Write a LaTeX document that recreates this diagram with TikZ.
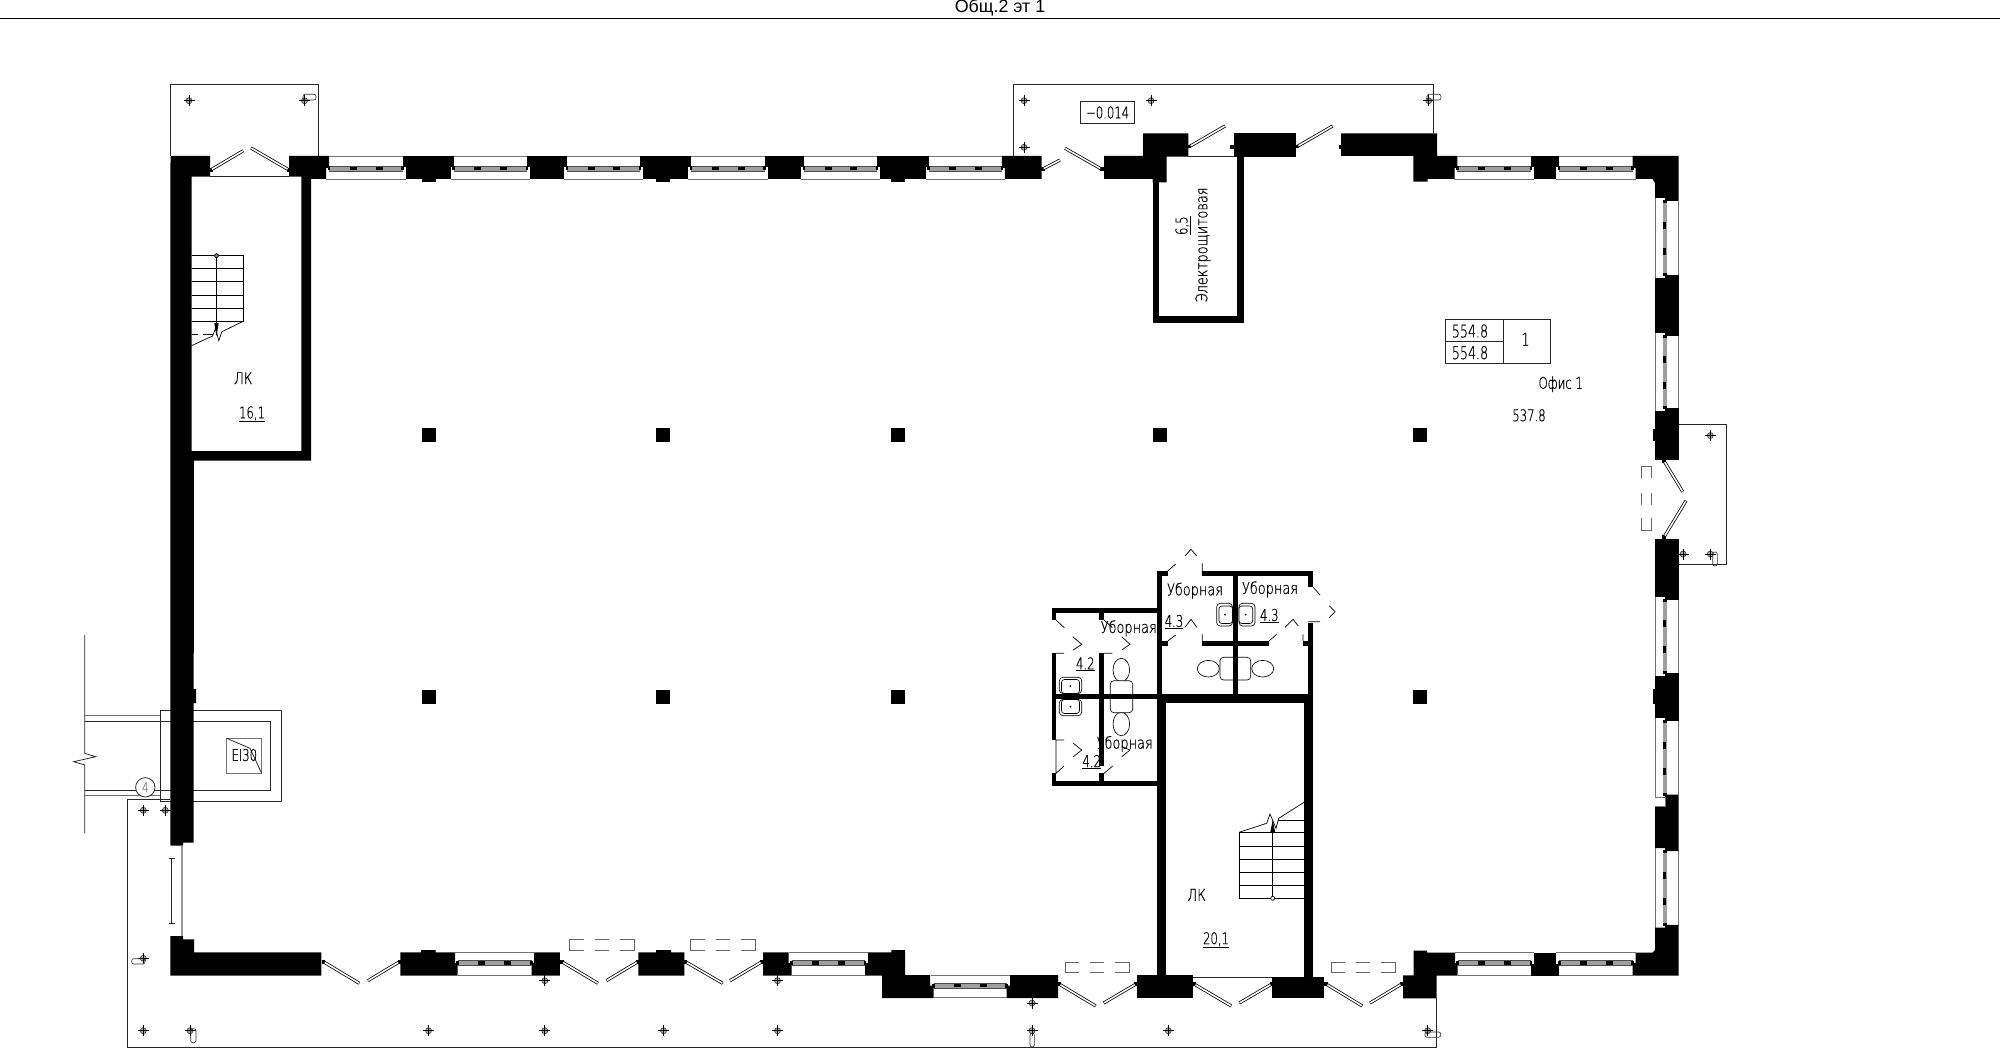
\documentclass[tikz,border=0pt]{standalone}
\usepackage{fontspec}
\setmainfont{Liberation Sans}
\newfontfamily\gost[FakeStretch=0.8,FakeBold=0.5]{DejaVu Sans ExtraLight}
\newfontfamily\gostn[FakeStretch=0.72,FakeBold=0.5]{DejaVu Sans ExtraLight}
\newcommand{\pxfont}{\fontsize{23}{26}\selectfont}
\newcommand{\ppoly}[1]{\fill[black] #1 -- cycle;}
% exterior-span window, horizontal: x1 x2 yout yin yband
\newcommand{\winH}[5]{%
 \draw[glass] (#1,#3) -- (#2,#3);
 \draw[glass] ({#1-3},#4) -- ({#2+3},#4);
 \fill[gray!75] (#1,{#5-2.6}) rectangle (#2,{#5+2.6});
 \draw[black!70,line width=.7pt] (#1,{#5-2.6}) -- (#2,{#5-2.6}) (#1,{#5+2.6}) -- (#2,{#5+2.6});
 \fill[black] ({#1-1.3},{#5-2}) rectangle ({#1+1.3},{#5+2});
 \fill[black] ({#2-1.3},{#5-2}) rectangle ({#2+1.3},{#5+2});
 \fill[black] ({#1+(#2-#1)*.33-3.5},{#5-1.6}) rectangle ({#1+(#2-#1)*.33+3.5},{#5+1.6});
 \fill[black] ({#1+(#2-#1)*.68-3.5},{#5-1.6}) rectangle ({#1+(#2-#1)*.68+3.5},{#5+1.6});
}
% vertical window on the right wall: y1 y2
\newcommand{\winV}[2]{%
 \draw[glass] (1678.3,#1) -- (1678.3,#2);
 \draw[glass] (1655.3,{#1-3}) -- (1655.3,{#2+3});
 \fill[gray!75] (1663,#1) rectangle (1667,#2);
 \fill[black] (1663,{#1-1}) rectangle (1666.5,{#1+2});
 \fill[black] (1663,{#2-2}) rectangle (1666.5,{#2+1});
 \fill[black] (1663,{#1+(#2-#1)*.33-3.5}) rectangle (1666,{#1+(#2-#1)*.33+3.5});
 \fill[black] (1663,{#1+(#2-#1)*.68-3.5}) rectangle (1666,{#1+(#2-#1)*.68+3.5});
}
% pier on a horizontal wall: xa xb yout yin
\newcommand{\pierH}[4]{%
 \fill[black] (#1,#3) rectangle (#2,{(#3+#4)/2});
 \fill[black] ({#1+3},{(#3+#4)/2}) rectangle ({#2-3},#4);
}
\newcommand{\pierV}[2]{%
 \fill[black] (1665,#1) rectangle (1678.6,#2);
 \fill[black] (1655,{#1+3}) rectangle (1665.5,{#2-3});
}
\newcommand{\bumpT}[1]{\fill[black] ({#1-7},179) rectangle ({#1+7},181.7);}
\newcommand{\leaf}[4]{%
 \fill[black] ({#1-1.8},{#2-1.8}) rectangle ({#1+1.8},{#2+1.8});
 \draw[black,line width=4.4pt] (#1,#2) -- (#3,#4);
 \draw[white,line width=2.2pt] ({#1+(#3-#1)*.04},{#2+(#4-#2)*.04}) -- ({#3-(#3-#1)*.01},{#4-(#4-#2)*.01});
}
\newcommand{\crosshair}[2]{%
 \draw[black!80,fill=gray!60,line width=.9pt] (#1,#2) circle [radius=3];
 \draw[black,line width=1pt] ({#1-5.5},#2) -- ({#1+5.5},#2) (#1,{#2-5.5}) -- (#1,{#2+5.5});
}
\newcommand{\clipbar}[4]{\draw[black!80,line width=.9pt,rounded corners=3pt] (#1,#2) rectangle (#3,#4);}
\newcommand{\dashH}[4]{%
 \draw[dashbox] ({#1+.22*(#2-#1)},#3) -- (#1,#3) -- (#1,#4) -- ({#1+.22*(#2-#1)},#4);
 \draw[dashbox] ({#2-.22*(#2-#1)},#3) -- (#2,#3) -- (#2,#4) -- ({#2-.22*(#2-#1)},#4);
 \draw[dashbox] ({#1+.39*(#2-#1)},#3) -- ({#1+.61*(#2-#1)},#3) ({#1+.39*(#2-#1)},#4) -- ({#1+.61*(#2-#1)},#4);
}
\newcommand{\column}[2]{\fill[black] ({#1-7},{#2-7}) rectangle ({#1+7},{#2+7});}
\tikzset{
 x=0.05cm,y=-0.05cm,
 thinl/.style={black!85,line width=1.1pt},
 hairl/.style={black,line width=1pt},
 glass/.style={gray!90!black,line width=1.3pt},
 dashbox/.style={gray!80!black,line width=1.2pt},
 lab/.style={inner sep=0pt,font=\gost\pxfont},
 num/.style={inner sep=0pt,font=\gostn\pxfont},
 tnum/.style={inner sep=0pt,font=\gostn\fontsize{25}{27}\selectfont},
}
\begin{document}
\begin{tikzpicture}
\useasboundingbox (0,0) rectangle (2000,1048);
\fill[white] (0,0) rectangle (2000,1048);
% header
\node[inner sep=0pt,font=\fontsize{25.4}{27}\selectfont] (title) at (1000,7.5) {Общ.2 эт 1};
\draw[black,line width=1pt] (0,18.3) -- (2000,18.3);

% canopies / thin outlines
\draw[thinl] (170.5,156) -- (170.5,84.3) -- (318,84.3) -- (318,156);
\draw[thinl] (1013.4,156) -- (1013.4,84.3) -- (1433.3,84.3) -- (1433.3,133);
\draw[thinl] (1678.6,424) -- (1726.7,424) -- (1726.7,564) -- (1678.6,564);
\draw[thinl] (170,799.3) -- (127.3,799.3) -- (127.3,1047) -- (1436.7,1047) -- (1436.7,998);
% left shaft
\draw[thinl] (160.3,710.3) rectangle (281.3,801.3);
\draw[thinl] (193,721.3) -- (270.3,721.3) -- (270.3,790.3) -- (193,790.3);
\draw[thinl] (84.7,715.7) -- (160.3,715.7) (84.7,721.3) -- (171,721.3) (84.7,790.3) -- (171,790.3) (84.7,795.7) -- (160.3,795.7);
\draw[gray!85!black,line width=1.3pt] (84.7,715.7) -- (160.3,715.7) (84.7,795.7) -- (160.3,795.7);
\draw[thinl] (84.7,635) -- (84.7,753.3) -- (95.7,756.7) -- (73.7,761.7) -- (84.7,765) -- (84.7,833.3);
\draw[thinl,fill=white] (145.3,787.3) circle [radius=9.7];
\node[inner sep=0pt,font=\gostn\fontsize{19}{20}\selectfont,text=gray] (n4) at (145.3,787.3) {4};
\draw[gray!90!black,line width=1.2pt] (226.7,738.3) rectangle (261.7,773.3);
\draw[thinl] (226.7,738.3) -- (250,748.3) -- (261.7,773.3);
\node[num] (ei) at (244.3,755) {EI30};
% dimension tick beside the left door
\draw[thinl] (171.7,858.3) -- (171.7,923.3) (168.5,858.3) -- (175,858.3) (168.5,923.3) -- (175,923.3);
\fill[gray!80] (181,845.7) rectangle (183.3,936);

% main stair-room walls, left wall
\ppoly{(170.5,156) -- (210,156) -- (210,176.7) -- (191.5,176.7) -- (191.5,451) -- (301.3,451) -- (301.3,176.7) -- (289,176.7) -- (289,156) -- (329,156) -- (329,168) -- (326,168) -- (326,179) -- (311,179) -- (311,460.5) -- (194,460.5) -- (193.7,689) -- (196,689) -- (196,703) -- (193.7,703) -- (193.7,842.7) -- (183,842.7) -- (183,845.7) -- (170.3,845.7)}
\draw[thinl] (210,176.7) -- (289,176.7);
\ppoly{(170.3,936) -- (183,936) -- (183,939.3) -- (194,939.3) -- (194,952.3) -- (321.3,952.3) -- (321.3,975.7) -- (170.3,975.7)}

% top wall
\pierH{402.7}{453.6}{156}{179}\bumpT{428.6}
\pierH{526.8}{567}{156}{179}
\pierH{640}{691}{156}{179}\bumpT{663}
\pierH{764.7}{804}{156}{179}
\pierH{877}{928.6}{156}{179}\bumpT{898}
\ppoly{(1001.8,156) -- (1041.5,156) -- (1041.5,179) -- (1004.8,179) -- (1004.8,168) -- (1001.8,168)}
\winH{329}{402.7}{156.5}{179}{168.5}
\winH{453.6}{526.8}{156.5}{179}{168.5}
\winH{567}{640}{156.5}{179}{168.5}
\winH{691}{764.7}{156.5}{179}{168.5}
\winH{804}{877}{156.5}{179}{168.5}
\winH{928.6}{1001.8}{156.5}{179}{168.5}
% entrance part of the top wall
\ppoly{(1104,156) -- (1143,156) -- (1143,133.3) -- (1188.4,133.3) -- (1188.4,156.7) -- (1166.5,156.7) -- (1166.5,182.3) -- (1152.7,182.3) -- (1152.7,179) -- (1104,179)}
\fill[black] (1233.5,133.3) rectangle (1296,156.7);
\ppoly{(1341,133.3) -- (1437,133.3) -- (1437,156) -- (1457.4,156) -- (1457.4,168) -- (1454.7,168) -- (1454.7,179) -- (1427.5,179) -- (1427.5,181.7) -- (1413.4,181.7) -- (1413.4,156) -- (1341,156)}
% electrical room
\fill[black] (1152.7,179) rectangle (1159,322.7);
\fill[black] (1237,133.3) rectangle (1243.8,322.7);
\fill[black] (1152.7,316) rectangle (1243.8,322.7);
\draw[thinl] (1188,156.8) -- (1233.5,156.8);
% top right
\pierH{1531}{1559}{156}{179}
\winH{1457.4}{1531}{156.5}{179}{168.5}
\winH{1559}{1632.7}{156.5}{179}{168.5}
\ppoly{(1632.7,156) -- (1678.6,156) -- (1678.6,201) -- (1665,201) -- (1665,198) -- (1655,198) -- (1655,183) -- (1652.6,179) -- (1635.7,179) -- (1635.7,168) -- (1632.7,168)}
% right wall
\pierV{275}{335.7}
\pierV{408.3}{459.5}\fill[black] (1652.7,429) rectangle (1656,441);
\fill[black] (1655,456.5) rectangle (1666,459.5);
\pierV{538.8}{599.6}\fill[black] (1655,538.8) rectangle (1666,542);
\pierV{673}{721}\fill[black] (1652.7,689) rectangle (1656,703.7);
\ppoly{(1665,794.6) -- (1678.6,794.6) -- (1678.6,851) -- (1665,851) -- (1665,848) -- (1655,848) -- (1655,806) -- (1665.5,806)}
\draw[glass] (1655.3,797.5) -- (1665.5,797.5) -- (1665.5,806) -- (1655.3,806);
\winV{201}{275}
\winV{335.7}{408.3}
\winV{599.6}{673}
\winV{721}{794.6}
\winV{851}{924.8}
\ppoly{(1632.7,975.6) -- (1678.6,975.6) -- (1678.6,924.8) -- (1665,924.8) -- (1665,927.7) -- (1655,927.7) -- (1655,950) -- (1652.6,952.6) -- (1635.7,952.6) -- (1635.7,963) -- (1632.7,963)}
% bottom wall
\ppoly{(400.3,952.3) -- (421,952.3) -- (421,950) -- (435.7,950) -- (435.7,952.3) -- (455,952.3) -- (455,963) -- (457.5,963) -- (457.5,975.7) -- (400.3,975.7)}
\ppoly{(534,952.3) -- (559.8,952.3) -- (559.8,975.7) -- (531.7,975.7) -- (531.7,963) -- (534,963)}
\ppoly{(638.3,952.3) -- (656,952.3) -- (656,950) -- (671,950) -- (671,952.3) -- (684.4,952.3) -- (684.4,975.7) -- (638.3,975.7)}
\ppoly{(763,952.3) -- (788.6,952.3) -- (788.6,963) -- (791.5,963) -- (791.5,975.7) -- (763,975.7)}
\ppoly{(868,952.3) -- (891.4,952.3) -- (891.4,950) -- (905,950) -- (905,975) -- (930,975) -- (930,985.5) -- (933.5,985.5) -- (933.5,998) -- (882,998) -- (882,975.7) -- (865,975.7) -- (865,963) -- (868,963)}
\ppoly{(1010,975) -- (1058,975) -- (1058,998) -- (1006.7,998) -- (1006.7,985.5) -- (1010,985.5)}
\winH{457.5}{531.7}{975.7}{952.7}{963}
\winH{791.5}{865}{975.7}{952.7}{963}
\winH{933.5}{1006.7}{997.7}{975.5}{985.5}
\ppoly{(1136.7,975.3) -- (1193.3,975.3) -- (1193.3,998.3) -- (1136.7,998.3)}
\ppoly{(1272,977.3) -- (1324.3,977.3) -- (1324.3,998.3) -- (1272,998.3)}
\draw[thinl] (1193,977) -- (1272,977);
\ppoly{(1413.7,950.7) -- (1427,950.7) -- (1427,952.7) -- (1455,952.7) -- (1455,963) -- (1457.7,963) -- (1457.7,975.6) -- (1436.7,975.6) -- (1436.7,998.3) -- (1403,998.3) -- (1403,975.3) -- (1413.7,975.3)}
\pierH{1531}{1559.3}{975.6}{952.7}
\winH{1457.7}{1531}{975.6}{952.9}{963}
\winH{1559.3}{1632.7}{975.6}{952.9}{963}
% columns
\column{428.6}{435}\column{663}{435}\column{898}{435}\column{1159.5}{435}\column{1420}{435}
\column{428.6}{696.5}\column{663}{696.5}\column{898}{696.5}\column{1420}{696.5}
% doors
\leaf{210.7}{170}{243.3}{150.7}
\leaf{289}{170}{251}{148}
\leaf{1043}{169}{1060}{160}
\leaf{1101.8}{169.3}{1065}{148.3}
\leaf{1189.3}{146.7}{1225}{126}
\leaf{1296.9}{146.7}{1332.6}{126}
\fill[black] (1229.5,145) rectangle (1233.5,149);
\fill[black] (1339,145) rectangle (1342,149);
\leaf{1664}{461}{1682.7}{491.7}
\leaf{1664}{537}{1686}{500.8}
\leaf{323.3}{961.7}{359.3}{983.3}
\leaf{399.4}{961.7}{367.9}{980.7}
\leaf{561.8}{961.7}{598}{983.3}
\leaf{637.9}{961.7}{606.4}{980.7}
\leaf{685.4}{961.7}{722.7}{983.3}
\leaf{762}{961.7}{730}{980.7}
\leaf{1059}{984}{1095.7}{1006}
\leaf{1136}{984}{1103.7}{1003}
\leaf{1194}{984}{1231.3}{1006}
\leaf{1271.7}{984}{1239.3}{1003}
\leaf{1326}{984}{1362.3}{1006}
\leaf{1401.7}{984}{1370}{1003}
% dashed door marks
\dashH{569.5}{634.5}{939.3}{950}
\dashH{690.7}{755.6}{939.3}{950}
\dashH{1065.3}{1129.3}{962.3}{972.3}
\dashH{1331.3}{1395.3}{962.3}{972.3}
\draw[dashbox] (1641.7,478) -- (1641.7,466) -- (1651.7,466) -- (1651.7,478) (1641.7,518) -- (1641.7,530.6) -- (1651.7,530.6) -- (1651.7,518) (1641.7,493) -- (1641.7,505) (1651.7,493) -- (1651.7,505);
% crosshairs and clips
\crosshair{189}{100.7}\crosshair{304.5}{100.7}\clipbar{303}{94.3}{316}{100}
\crosshair{1024}{100.7}\crosshair{1151}{100.7}\crosshair{1024}{147.3}
\crosshair{1428.7}{100.7}\clipbar{1427}{94.3}{1441}{100}
\crosshair{1710.3}{435.5}\crosshair{1683}{554}\crosshair{1710.3}{554}\clipbar{1712.7}{552}{1717.3}{566}
\crosshair{143.3}{810.3}\crosshair{165.3}{810.3}
\crosshair{143.3}{958.3}\clipbar{131.7}{958.7}{145}{964}
\crosshair{143.3}{1030.7}\crosshair{190}{1030.7}\clipbar{190.7}{1028.7}{196}{1042.7}
\crosshair{544.8}{980.7}\crosshair{777.5}{980.7}\crosshair{1032}{1003}
\crosshair{428.5}{1030.7}\crosshair{544.8}{1030.7}\crosshair{663.5}{1030.7}\crosshair{777.5}{1030.7}\crosshair{1032}{1030.7}\clipbar{1030}{1033}{1034.4}{1047}
\crosshair{1168.3}{1030.7}\crosshair{1427.7}{1030.7}\clipbar{1425}{1032}{1440.7}{1037.3}
% stair, top-left room
\foreach \yy in {255.7,268.7,281.7,295,308,321}{\draw[hairl] (191.5,\yy) -- (243.8,\yy);}
\draw[hairl] (243.8,255.7) -- (243.8,321);
\draw[hairl] (243.8,321) -- (221.9,331.7) -- (218.8,340.7) -- (215.6,328.3) -- (212.5,336) -- (191.5,345.7);
\draw[hairl] (191.5,334.3) -- (198,334.3) (203,334.3) -- (212.5,334.3);
\draw[hairl] (216.5,255.7) -- (216.5,325);
\draw[hairl,fill=gray] (216.5,255.7) circle [radius=2];
\fill[black] (214.3,323) -- (218.7,323) -- (216.5,336) -- cycle;
\node[lab] (lk1) at (243.3,378.3) {ЛК};
\node[num] (a1) at (252,414) {\underline{16,1}};
% stair, lower room
\foreach \yy in {832.3,846.3,859.3,872.3,885.3,898.3}{\draw[hairl] (1239,\yy) -- (1304,\yy);}
\draw[hairl] (1239,832.3) -- (1239,898.3);
\draw[hairl] (1278,820.3) -- (1304,820.3);
\draw[hairl] (1239,832.3) -- (1266.7,823.3) -- (1270,814) -- (1276,828.3) -- (1278.7,818.3) -- (1304,802.3);
\draw[hairl] (1272.7,898.3) -- (1272.7,830);
\draw[hairl,fill=white] (1272.7,898.3) circle [radius=2];
\fill[black] (1270.3,832) -- (1275.1,832) -- (1272.7,820) -- cycle;
\node[lab] (lk2) at (1196.7,895) {ЛК};
\node[num] (a2) at (1216,939.8) {\underline{20,1}};
% labels
\draw[thinl] (1080.4,101.3) rectangle (1134.8,123.3);
\node[num] (lev) at (1107.6,112.5) {−0.014};
\node[lab,rotate=90] (el) at (1203,245) {Электрощитовая};
\node[num,rotate=90] (a3) at (1183,225.7) {\underline{6,5}};
\draw[thinl] (1445.5,319.3) rectangle (1550.8,363.3) (1445.5,341.3) -- (1503.3,341.3) (1503.3,319.3) -- (1503.3,363.3);
\node[tnum] (t1) at (1470,331) {554.8};
\node[tnum] (t2) at (1470,352.7) {554.8};
\node[tnum] (t3) at (1525.5,339.3) {1};
\node[num] (of) at (1560.7,384.3) {Офис 1};
\node[num] (ar) at (1529,415.3) {537.8};

% --- toilets ---
\tikzset{wc/.style={black,line width=.9pt,fill=white}}
% upper block walls
\fill[black] (1157.3,571) rectangle (1162,694);
\fill[black] (1157.3,571) rectangle (1167.7,576);
\fill[black] (1202.3,571) rectangle (1313.3,576);
\fill[black] (1233,571) rectangle (1238,694);
\fill[black] (1308.3,571) rectangle (1313.3,586.7);
\fill[black] (1308.3,622.7) rectangle (1313.3,703);
\fill[black] (1162,641) rectangle (1167.7,645.7);
\fill[black] (1202.3,641) rectangle (1269,645.7);
\fill[black] (1303,641) rectangle (1308.3,645.7);
\fill[black] (1157.3,694) rectangle (1313.3,703.3);
\fill[black] (1157.3,694) rectangle (1166.3,975.3);
\fill[black] (1304,703) rectangle (1313.3,977.3);
% lower-left block walls
\fill[black] (1051.7,607.7) rectangle (1157.3,612.7);
\fill[black] (1051.7,607.7) rectangle (1056,620);
\fill[black] (1051.7,653.3) rectangle (1056,740);
\fill[black] (1051.7,773.3) rectangle (1056,786);
\fill[black] (1051.7,780.7) rectangle (1157.3,786);
\fill[black] (1099.3,612.7) rectangle (1104,620);
\fill[black] (1099.3,653.3) rectangle (1104,766);
\fill[black] (1099.3,773.3) rectangle (1104,780.7);
\fill[black] (1051.7,694) rectangle (1157.3,698.7);
% door ticks in the washrooms
\draw[hairl] (1167.7,571) -- (1175.7,564) (1185,556) -- (1191,549.3) -- (1196.7,556) (1202.3,563.3) -- (1202.3,575);
\draw[hairl] (1167.7,641) -- (1175.7,635) (1185,627.3) -- (1191,619.3) -- (1196.7,627.3) (1202.3,634.3) -- (1202.3,641);
\draw[hairl] (1269,641) -- (1276.7,634.3) (1285,627.3) -- (1293,619.3) -- (1298.3,626) (1303,634.3) -- (1303,641);
\draw[hairl] (1313.3,587.3) -- (1320,595) (1329.3,605.7) -- (1335,611.7) -- (1329.3,617.7) (1308.3,621.7) -- (1320,621.7);
\draw[hairl] (1056,620) -- (1064.3,627.7) (1072.7,636.7) -- (1081.7,644.3) -- (1073.3,650) (1056,653.3) -- (1064,653.3);
\draw[hairl] (1104,620) -- (1112.3,627.7) (1121.7,636.7) -- (1130,644.3) -- (1121.7,650) (1104,653.3) -- (1112.3,653.3);
\draw[hairl] (1056,740) -- (1056,773.3) (1056,740) -- (1064,740) (1056,773.3) -- (1064,766) (1073.3,743.3) -- (1081.7,750) -- (1073.3,756.7);
\draw[hairl] (1104,773.3) -- (1112.7,766) (1121.7,746.7) -- (1130,750) -- (1121.7,756.7);
% fixtures
\draw[wc,rounded corners=5pt] (1216.7,603.3) rectangle (1232.5,626);
\draw[wc,rounded corners=4pt] (1219,606) rectangle (1232.5,623.5);
\fill (1225,614.7) circle [radius=1];
\draw[wc,rounded corners=5pt] (1239,603.3) rectangle (1255,626);
\draw[wc,rounded corners=4pt] (1239,606) rectangle (1252.7,623.5);
\fill (1245.7,614.7) circle [radius=1];
\draw[wc,rounded corners=5pt] (1059.3,677.3) rectangle (1081.7,693.5);
\draw[wc,rounded corners=4pt] (1061.5,679.5) rectangle (1079.5,693.5);
\fill (1070.3,686) circle [radius=1];
\draw[wc,rounded corners=5pt] (1059.3,699.5) rectangle (1081.7,715.7);
\draw[wc,rounded corners=4pt] (1061.5,699.5) rectangle (1079.5,713.5);
\fill (1070.3,706.7) circle [radius=1];
\draw[wc] (1208.3,668.7) ellipse [x radius=11, y radius=8.3];
\draw[wc] (1262.7,668.7) ellipse [x radius=11, y radius=8.3];
\draw[wc,rounded corners=5pt] (1220,657.3) rectangle (1250.7,680);
\fill[black] (1233,655) rectangle (1238,682);
\draw[wc] (1121.3,670) ellipse [x radius=8.3, y radius=11.7];
\draw[wc] (1121.3,724) ellipse [x radius=8.3, y radius=11.7];
\draw[wc,rounded corners=5pt] (1110.3,680.7) rectangle (1132.7,712.7);
\fill[black] (1108,694) rectangle (1135,698.7);
% washroom labels
\node[lab] (u1) at (1195,590.7) {Уборная};
\node[lab] (u2) at (1270,589.3) {Уборная};
\node[lab] (u3) at (1128.7,628.3) {Уборная};
\node[lab] (u4) at (1124.7,744) {Уборная};
\node[num] (w1) at (1174,621.7) {\underline{4.3}};
\node[num] (w2) at (1269.3,615.7) {\underline{4.3}};
\node[num] (w3) at (1085.3,664) {\underline{4.2}};
\node[num] (w4) at (1091.7,761.7) {\underline{4.2}};
\end{tikzpicture}
\end{document}
